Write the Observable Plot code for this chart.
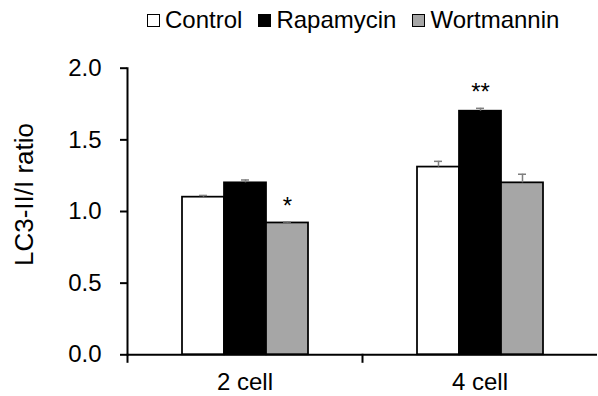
<!DOCTYPE html>
<html>
<head>
<meta charset="utf-8">
<script src="https://cdn.jsdelivr.net/npm/d3@7"></script>
<script src="https://cdn.jsdelivr.net/npm/@observablehq/plot@0.6"></script>
<style>
  html, body { margin: 0; padding: 0; background: #fff; }
  body { width: 598px; height: 396px; overflow: hidden; font-family: "Liberation Sans", Arial, sans-serif; }
  #legend { position: relative; height: 36px; }
  #legend .row { position: absolute; left: 147px; top: 0; height: 40px; display: flex; align-items: center; font-size: 24px; color: #000; }
  #legend .item { display: flex; align-items: center; margin-right: 16px; }
  #legend .swatch { width: 13px; height: 13px; box-sizing: border-box; border: 1.5px solid #000; margin-right: 5px; }
  #chart svg { overflow: visible; display: block; }
</style>
</head>
<body>
<div id="legend"><div class="row"></div></div>
<div id="chart"></div>
<script>
// Embryo stages and treatments
const stages = ["2 cell", "4 cell"];
const treatments = ["Control", "Rapamycin", "Wortmannin"];
const treatmentColors = ["#ffffff", "#000000", "#a6a6a6"];

// LC3-II/I ratio (mean) and upper error per treatment, by stage
const ratio2cell = [1.10, 1.20, 0.92];
const ratio4cell = [1.31, 1.70, 1.20];
const err2cell = [0.012, 0.02, 0.007];
const err4cell = [0.04, 0.02, 0.06];

// Significance markers
const sig2cell = ["", "", "*"];
const sig4cell = ["", "**", ""];

const yTicks = [0, 0.5, 1.0, 1.5, 2.0];
const yTitle = "LC3-II/I ratio";

const rows = [];
treatments.forEach((t, i) => {
  rows.push({stage: stages[0], treatment: t, value: ratio2cell[i], err: err2cell[i], sig: sig2cell[i]});
  rows.push({stage: stages[1], treatment: t, value: ratio4cell[i], err: err4cell[i], sig: sig4cell[i]});
});
const errTop = d => d.value + d.err;

// Legend
const legendRow = document.querySelector("#legend .row");
treatments.forEach((t, i) => {
  const item = document.createElement("div");
  item.className = "item";
  const sw = document.createElement("span");
  sw.className = "swatch";
  sw.style.background = treatmentColors[i];
  const label = document.createElement("span");
  label.textContent = t;
  item.append(sw, label);
  legendRow.append(item);
});

const W = 598, H = 360, mt = 31.7, mb = 41.7;
const plotH = H - mt - mb;

const chart = Plot.plot({
  width: W,
  height: H,
  marginTop: mt,
  marginBottom: mb,
  marginLeft: 126,
  marginRight: 1,
  style: {fontFamily: "'Liberation Sans', Arial, sans-serif", background: "#fff", color: "#000", overflow: "visible"},
  fx: {domain: stages, padding: 0, axis: null},
  x: {domain: treatments, paddingInner: 0, paddingOuter: 1.26, axis: null},
  y: {domain: [0, 2], axis: null},
  color: {domain: treatments, range: treatmentColors},
  marks: [
    Plot.barY(rows, {fx: "stage", x: "treatment", y: "value", fill: "treatment", stroke: "#000", strokeWidth: 1.75}),
    Plot.ruleX(rows, {fx: "stage", x: "treatment", y1: "value", y2: errTop, stroke: "#7f7f7f", strokeWidth: 1.5}),
    Plot.tickY(rows, {fx: "stage", x: "treatment", y: errTop, stroke: "#7f7f7f", strokeWidth: 1.5, insetLeft: 17, insetRight: 17}),
    Plot.text(rows.filter(d => d.sig), {fx: "stage", x: "treatment", y: errTop, text: "sig", lineAnchor: "bottom", dy: -8, fontSize: 24}),
    Plot.ruleY([0], {stroke: "#000", strokeWidth: 2}),
    Plot.frame({anchor: "left", facetAnchor: "left", stroke: "#000", strokeWidth: 2}),
    Plot.frame({anchor: "left", insetTop: plotH, insetBottom: -7, stroke: "#000", strokeWidth: 2}),
    Plot.axisY({ticks: yTicks, tickFormat: d3.format(".1f"), tickSize: 7, tickPadding: 19, fontSize: 24, strokeWidth: 2, label: null}),
    Plot.axisFx({anchor: "bottom", tickSize: 0, tickPadding: 18, fontSize: 24, label: null}),
    Plot.text([yTitle], {frameAnchor: "left", facetAnchor: "left", rotate: -90, textAnchor: "middle", lineAnchor: "top", dx: -113, dy: -17, fontSize: 26})
  ]
});
document.getElementById("chart").append(chart);
</script>
</body>
</html>
